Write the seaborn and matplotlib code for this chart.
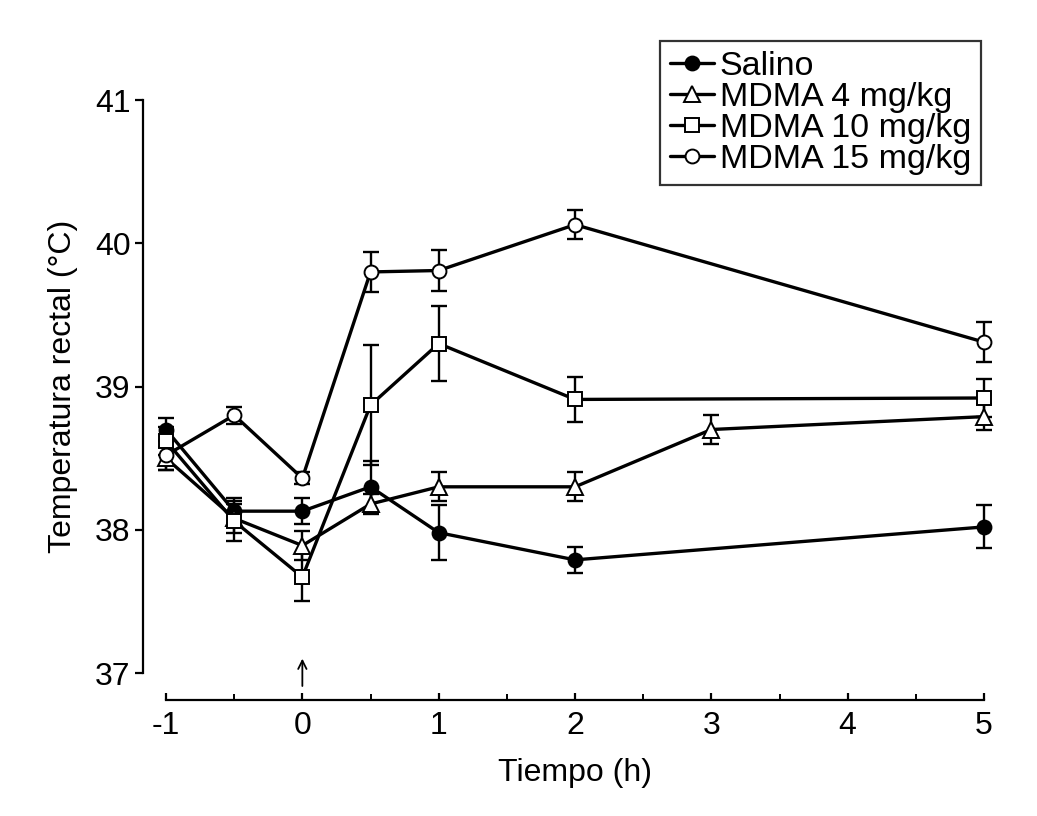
import matplotlib
matplotlib.use("Agg")
import matplotlib.pyplot as plt
import seaborn as sns

# Rectal temperature (mean +/- SEM) after MDMA
t_salino = [-1, -0.5, 0, 0.5, 1, 2, 5]
salino = [38.70, 38.13, 38.13, 38.30, 37.98, 37.79, 38.02]
salino_se = [0.08, 0.09, 0.09, 0.18, 0.19, 0.09, 0.15]

t_mdma4 = [-1, -0.5, 0, 0.5, 1, 2, 3, 5]
mdma4 = [38.50, 38.08, 37.89, 38.18, 38.30, 38.30, 38.70, 38.79]
mdma4_se = [0.08, 0.10, 0.10, 0.07, 0.10, 0.10, 0.10, 0.09]

t_mdma10 = [-1, -0.5, 0, 0.5, 1, 2, 5]
mdma10 = [38.62, 38.06, 37.67, 38.87, 39.30, 38.91, 38.92]
mdma10_se = [0.10, 0.14, 0.17, 0.42, 0.26, 0.16, 0.13]

t_mdma15 = [-1, -0.5, 0, 0.5, 1, 2, 5]
mdma15 = [38.52, 38.80, 38.36, 39.80, 39.81, 40.13, 39.31]
mdma15_se = [0.10, 0.06, 0.04, 0.14, 0.14, 0.10, 0.14]

labels = ["Salino", "MDMA 4 mg/kg", "MDMA 10 mg/kg", "MDMA 15 mg/kg"]
x_ticks = [-1, 0, 1, 2, 3, 4, 5]
y_ticks = [37, 38, 39, 40, 41]

sns.set_style("ticks")
plt.rcParams['font.family'] = ['Liberation Sans', 'DejaVu Sans']
plt.rcParams['text.color'] = 'black'
plt.rcParams['axes.labelcolor'] = 'black'

fig = plt.figure(figsize=(10.37, 8.16), dpi=100)
ax = fig.add_axes([0.1601, 0.1752, 0.7888, 0.7022])

series = [
    (t_salino, salino, salino_se, 'o', 'black'),
    (t_mdma4, mdma4, mdma4_se, '^', 'white'),
    (t_mdma10, mdma10, mdma10_se, 's', 'white'),
    (t_mdma15, mdma15, mdma15_se, 'o', 'white'),
]

for (t, y, se, m, fc), lab in zip(series, labels):
    ax.errorbar(t, y, yerr=se, fmt='none', ecolor='black', elinewidth=1.7,
                capsize=5.5, capthick=1.7, clip_on=False, zorder=2)
    sns.lineplot(x=t, y=y, ax=ax, color='black', linewidth=2.4, marker=m,
                 markersize=10 if m != '^' else 11, markerfacecolor=fc,
                 markeredgecolor='black', markeredgewidth=1.4, label=lab,
                 clip_on=False, zorder=3)

ax.set_xlim(-1, 5)
ax.set_ylim(37, 41)
ax.set_xticks(x_ticks)
ax.set_xticklabels([str(v) for v in x_ticks])
ax.set_xticks([-0.5, 0.5, 1.5, 2.5, 3.5, 4.5], minor=True)
ax.set_yticks(y_ticks)
ax.set_yticklabels([str(v) for v in y_ticks])

sns.despine(ax=ax)
ax.spines['left'].set_position(('outward', 16.5))
ax.spines['bottom'].set_position(('outward', 19.5))
for s in ['left', 'bottom']:
    ax.spines[s].set_linewidth(1.6)
    ax.spines[s].set_color('black')

ax.tick_params(axis='x', which='major', direction='in', length=5, width=1.6,
               labelsize=23, pad=8, colors='black')
ax.tick_params(axis='x', which='minor', direction='in', length=4, width=1.4,
               colors='black')
ax.tick_params(axis='y', which='major', direction='out', length=6, width=1.6,
               labelsize=23, pad=3, colors='black')

ax.set_xlabel("Tiempo (h)", fontsize=23, labelpad=12)
ax.set_ylabel("Temperatura rectal (°C)", fontsize=23, labelpad=12)

# injection arrow at t = 0
ax.annotate("", xy=(0, 37.12), xytext=(0, 36.89), annotation_clip=False,
            arrowprops=dict(arrowstyle='->', color='black', lw=1.3,
                            mutation_scale=15))

leg = ax.legend(loc='upper right', bbox_to_anchor=(0.946, 0.95),
                bbox_transform=fig.transFigure, borderaxespad=0,
                fontsize=24.5, frameon=True, fancybox=False, handlelength=1.3,
                handletextpad=0.15, labelspacing=0.0, borderpad=0.3)
leg.get_frame().set_edgecolor('black')
leg.get_frame().set_linewidth(1.6)

fig.savefig("out.png", dpi=100, facecolor='white')
